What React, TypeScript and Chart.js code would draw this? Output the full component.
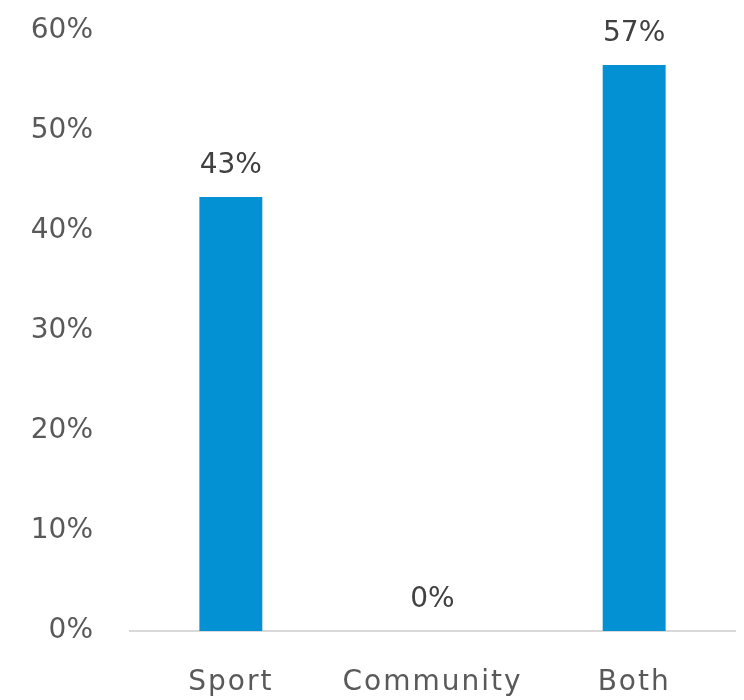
import React, { useEffect, useRef } from "react";
import { Chart, registerables } from "chart.js";

Chart.register(...registerables);

const categories = ["Sport", "Community", "Both"];
const shares = [43.4, 0, 56.6];
const yTicks = [0, 10, 20, 30, 40, 50, 60];

const FONT = "'DejaVu Sans', sans-serif";

const valueLabels = {
  id: "valueLabels",
  afterDatasetsDraw(chart: any) {
    const ctx = chart.ctx;
    const meta = chart.getDatasetMeta(0);
    ctx.save();
    ctx.font = `28px ${FONT}`;
    ctx.fillStyle = "#404040";
    ctx.textAlign = "center";
    ctx.textBaseline = "middle";
    meta.data.forEach((el: any, i: number) => {
      ctx.fillText(`${Math.round(shares[i])}%`, el.x, el.y - 31);
    });
    ctx.restore();
  },
};

export default function App() {
  const ref = useRef<HTMLCanvasElement | null>(null);
  useEffect(() => {
    if (!ref.current) return;
    const chart = new Chart(ref.current, {
      type: "bar",
      data: {
        labels: categories,
        datasets: [
          {
            data: shares,
            backgroundColor: "#0391D4",
            categoryPercentage: 1,
            barPercentage: 0.312,
          },
        ],
      },
      options: {
        responsive: false,
        animation: false,
        layout: { padding: { top: 31, right: 9, left: 0, bottom: 0 } },
        plugins: { legend: { display: false }, tooltip: { enabled: false } },
        scales: {
          x: {
            grid: { display: false, drawTicks: false },
            border: { display: true, color: "#D9D9D9", width: 2 },
            ticks: {
              color: "#595959",
              font: { family: FONT, size: 28 },
              padding: 35,
              maxRotation: 0,
            },
            afterFit: (s: any) => {
              s.height = 69;
              if (!s._lsWrapped) {
                const orig = s.drawLabels.bind(s);
                s.drawLabels = (area: any) => {
                  const c = s.ctx;
                  c.save();
                  c.letterSpacing = "2px";
                  orig(area);
                  c.restore();
                };
                s._lsWrapped = true;
              }
            },
          },
          y: {
            min: 0,
            max: 60,
            afterBuildTicks: (s: any) => {
              s.ticks = yTicks.map((v) => ({ value: v }));
            },
            grid: { display: false, drawTicks: false },
            border: { display: false },
            ticks: {
              color: "#595959",
              font: { family: FONT, size: 28 },
              padding: 37,
              callback: (v: any) => `${v}%`,
            },
            afterFit: (s: any) => {
              s.width = 130;
              s.paddingTop = 0;
              s.paddingBottom = 0;
            },
          },
        },
      },
      plugins: [valueLabels],
    });
    return () => chart.destroy();
  }, []);
  return (
    <div style={{ position: "fixed", left: 0, top: 0, width: 744, height: 700, background: "#fff" }}>
      <canvas ref={ref} width={744} height={700} />
    </div>
  );
}
